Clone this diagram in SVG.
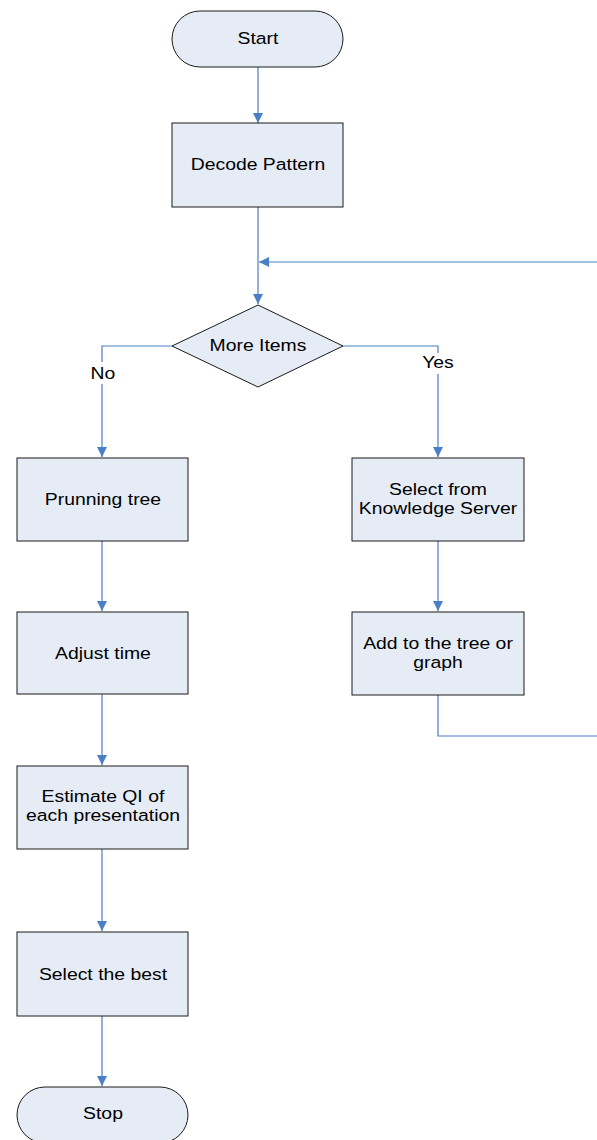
<svg xmlns="http://www.w3.org/2000/svg" width="597" height="1140" viewBox="0 0 597 1140">
  <style>
    .box { fill: #e6ecf6; stroke: #1a1a1a; stroke-width: 1; }
    .lbl { font-family: "Liberation Sans", Arial, sans-serif; font-size: 17px; fill: #000; text-anchor: middle;
           transform-box: fill-box; transform-origin: center; transform: scaleX(1.14); }
    .edge { fill: none; stroke: #4a7ec6; stroke-width: 1.2; }
  </style>
  <defs>
    <marker id="arrow" viewBox="0 0 10 10" refX="10" refY="5" markerWidth="12" markerHeight="10" markerUnits="userSpaceOnUse" orient="auto">
      <path d="M0,0 L10,5 L0,10 Z" fill="#4a7ec6"/>
    </marker>
  </defs>
  <rect width="597" height="1140" fill="#ffffff"/>

  <g id="connectors">
    <path class="edge" d="M258,67 V123" marker-end="url(#arrow)"/>
    <path class="edge" d="M258,207 V304" marker-end="url(#arrow)"/>
    <path class="edge" d="M597,262 H259" marker-end="url(#arrow)"/>
    <path class="edge" d="M172,346 H102 V362 M102,384 V457" marker-end="url(#arrow)"/>
    <path class="edge" d="M343,346 H438 V353 M438,374 V457" marker-end="url(#arrow)"/>
    <path class="edge" d="M102,541 V611" marker-end="url(#arrow)"/>
    <path class="edge" d="M102,694 V765" marker-end="url(#arrow)"/>
    <path class="edge" d="M102,849 V931" marker-end="url(#arrow)"/>
    <path class="edge" d="M102,1016 V1086" marker-end="url(#arrow)"/>
    <path class="edge" d="M438,541 V611" marker-end="url(#arrow)"/>
    <path class="edge" d="M438,695 V736 H597"/>
    <text class="lbl" x="103" y="379">No</text>
    <text class="lbl" x="438" y="368">Yes</text>
  </g>

  <g id="start">
    <rect class="box" x="172" y="11" width="171" height="56" rx="28" ry="28"/>
    <text class="lbl" x="258" y="44">Start</text>
  </g>
  <g id="decode-pattern">
    <rect class="box" x="172" y="123" width="171" height="84"/>
    <text class="lbl" x="258" y="170">Decode Pattern</text>
  </g>
  <g id="more-items">
    <polygon class="box" points="258,305 343,346 258,387 172,346"/>
    <text class="lbl" x="258" y="351">More Items</text>
  </g>
  <g id="prunning-tree">
    <rect class="box" x="17" y="458" width="171" height="83"/>
    <text class="lbl" x="103" y="505">Prunning tree</text>
  </g>
  <g id="adjust-time">
    <rect class="box" x="17" y="612" width="171" height="82"/>
    <text class="lbl" x="103" y="659">Adjust time</text>
  </g>
  <g id="estimate-qi">
    <rect class="box" x="17" y="766" width="171" height="83"/>
    <text class="lbl" x="103" y="802">Estimate QI of</text>
    <text class="lbl" x="103" y="821">each presentation</text>
  </g>
  <g id="select-best">
    <rect class="box" x="17" y="932" width="171" height="84"/>
    <text class="lbl" x="103" y="980">Select the best</text>
  </g>
  <g id="stop">
    <rect class="box" x="17" y="1087" width="171" height="56" rx="28" ry="28"/>
    <text class="lbl" x="103" y="1119">Stop</text>
  </g>
  <g id="select-knowledge">
    <rect class="box" x="352" y="458" width="172" height="83"/>
    <text class="lbl" x="438" y="495">Select from</text>
    <text class="lbl" x="438" y="514">Knowledge Server</text>
  </g>
  <g id="add-to-tree">
    <rect class="box" x="352" y="612" width="172" height="83"/>
    <text class="lbl" x="438" y="649">Add to the tree or</text>
    <text class="lbl" x="438" y="668">graph</text>
  </g>
</svg>
